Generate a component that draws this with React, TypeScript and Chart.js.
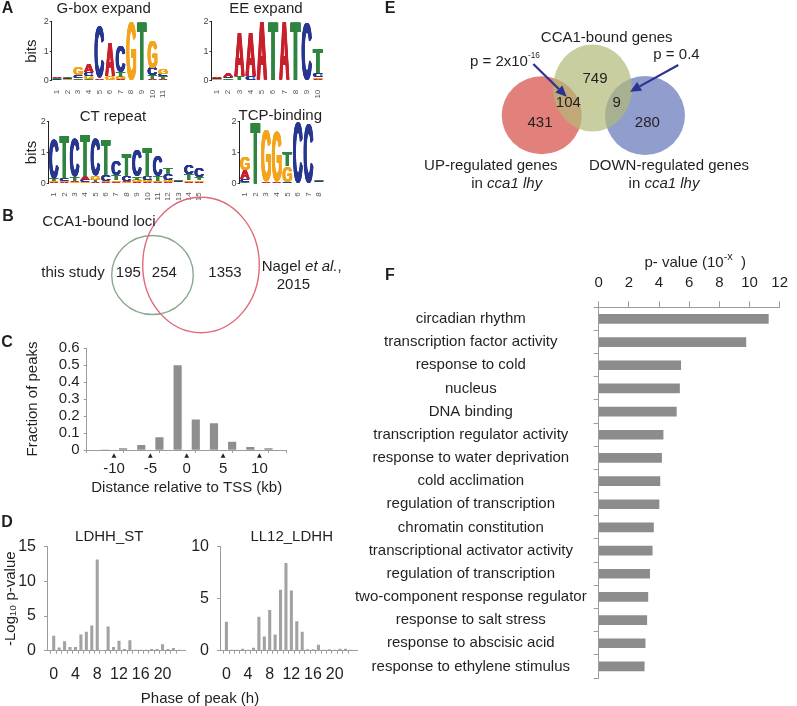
import React, { useEffect, useRef } from 'react';
import { Chart, registerables } from 'chart.js';

Chart.register(...registerables);

const FONT = '"Liberation Sans", Arial, Helvetica, sans-serif';
const INK = '#231f20';
const AXIS = '#9c9c9c';
Chart.defaults.font.family = FONT;
Chart.defaults.color = INK;

type Col = [string, number][];

// ---------- Panel A: sequence logos (bottom -> top, bits) ----------
const gboxColumns: Col[] = [
  [['G', 0.03], ['C', 0.03], ['T', 0.03], ['A', 0.04]],
  [['A', 0.03], ['G', 0.03], ['C', 0.04], ['T', 0.05]],
  [['A', 0.04], ['T', 0.06], ['C', 0.1], ['G', 0.25]],
  [['T', 0.04], ['G', 0.13], ['C', 0.11], ['A', 0.25]],
  [['G', 0.03], ['A', 0.06], ['C', 1.74]],
  [['T', 0.03], ['G', 0.14], ['A', 1.15]],
  [['A', 0.05], ['G', 0.07], ['T', 0.16], ['C', 0.87]],
  [['G', 1.98]],
  [['T', 2.0]],
  [['A', 0.06], ['T', 0.12], ['C', 0.25], ['G', 0.95]],
  [['A', 0.07], ['T', 0.1], ['C', 0.07], ['G', 0.18]],
];
const eeColumns: Col[] = [
  [['T', 0.02], ['G', 0.03], ['C', 0.03], ['A', 0.05]],
  [['G', 0.04], ['T', 0.05], ['C', 0.04], ['A', 0.12]],
  [['C', 0.03], ['T', 0.12], ['A', 1.5]],
  [['T', 0.03], ['C', 0.12], ['A', 1.5]],
  [['A', 2.0]],
  [['T', 2.0]],
  [['A', 2.0]],
  [['T', 2.0]],
  [['C', 1.92]],
  [['A', 0.05], ['G', 0.06], ['C', 0.15], ['T', 0.82]],
];
const ctColumns: Col[] = [
  [['A', 0.04], ['G', 0.04], ['T', 0.06], ['C', 1.3]],
  [['A', 0.04], ['G', 0.04], ['C', 0.1], ['T', 1.4]],
  [['G', 0.04], ['A', 0.04], ['T', 0.14], ['C', 1.22]],
  [['G', 0.04], ['C', 0.06], ['A', 0.14], ['T', 1.36]],
  [['A', 0.04], ['T', 0.06], ['G', 0.14], ['C', 1.2]],
  [['A', 0.04], ['G', 0.04], ['C', 0.2], ['T', 1.15]],
  [['A', 0.05], ['G', 0.05], ['T', 0.15], ['C', 0.45]],
  [['G', 0.04], ['A', 0.04], ['C', 0.15], ['T', 0.7]],
  [['A', 0.04], ['G', 0.08], ['T', 0.1], ['C', 0.85]],
  [['A', 0.04], ['G', 0.06], ['C', 0.12], ['T', 0.95]],
  [['A', 0.04], ['G', 0.05], ['T', 0.15], ['C', 0.66]],
  [['A', 0.05], ['G', 0.06], ['C', 0.2], ['T', 0.2]],
  [['A', 0.03], ['C', 0.03], ['G', 0.03], ['T', 0.03]],
  [['A', 0.05], ['G', 0.05], ['T', 0.2], ['C', 0.3]],
  [['A', 0.05], ['G', 0.05], ['T', 0.1], ['C', 0.3]],
];
const tcpColumns: Col[] = [
  [['T', 0.05], ['C', 0.08], ['A', 0.3], ['G', 0.42]],
  [['T', 2.0]],
  [['A', 0.04], ['G', 1.66]],
  [['A', 0.04], ['G', 1.64]],
  [['C', 0.05], ['G', 0.5], ['T', 0.45]],
  [['C', 2.0]],
  [['C', 1.95]],
  [['A', 0.03], ['C', 0.03], ['G', 0.03], ['T', 0.04]],
];
const LETTER_COLORS: Record<string, string> = { A: '#c8202c', C: '#27368f', G: '#f2a51c', T: '#2f8440' };

// ---------- Panel B ----------
const lociRegionCounts = [195, 254, 1353];
const lociRegionPos = [[128.3, 78.3], [164.3, 78.3], [225, 78.3]];
const lociCircles = [
  { x: 152.5, y: 80, rx: 40.8, ry: 39.5 },
  { x: 201, y: 70, rx: 58.3, ry: 67.7 },
];

// ---------- Panel C ----------
const tssBinCenters = [-11.25, -8.75, -6.25, -3.75, -1.25, 1.25, 3.75, 6.25, 8.75, 11.25];
const tssFractions = [0, 0.009, 0.028, 0.073, 0.497, 0.177, 0.156, 0.047, 0.015, 0.009];
const tssMarks = [-10, -5, 0, 5, 10];

// ---------- Panel D ----------
const phaseHours = [0, 1, 2, 3, 4, 5, 6, 7, 8, 9, 10, 11, 12, 13, 14, 15, 16, 17, 18, 19, 20, 21, 22, 23];
const ldhhStLogP = [2.1, 0.4, 1.3, 0.5, 0.5, 2.3, 2.7, 3.6, 13.1, 0, 3.45, 0.5, 1.4, 0.2, 1.45, 0.1, 0.1, 0.1, 0.2, 0.2, 0.9, 0.2, 0.35, 0.1];
const ll12LdhhLogP = [2.75, 0.05, 0.05, 0.15, 0.05, 0.25, 3.24, 1.33, 3.88, 1.52, 5.83, 8.4, 5.76, 2.8, 1.78, 0.1, 0.1, 0.55, 0.05, 0.1, 0.05, 0.15, 0.15, 0.05];
const phaseLabels = [0, 4, 8, 12, 16, 20];

// ---------- Panel E ----------
const geneRegionCounts = [431, 104, 749, 9, 280];
const geneRegionPos = [[160, 122.7], [188.3, 103.3], [215, 79.3], [236.7, 103.3], [267.3, 122.7]];
const geneCircles = [
  { x: 161.7, y: 115.3, rx: 40, ry: 39 },
  { x: 265, y: 115.5, rx: 40, ry: 39.5 },
  { x: 212.5, y: 88, rx: 39.5, ry: 43.5 },
];

// ---------- Panel F ----------
const goTerms = [
  'circadian rhythm', 'transcription factor activity', 'response to cold', 'nucleus', 'DNA binding',
  'transcription regulator activity', 'response to water deprivation', 'cold acclimation',
  'regulation of transcription', 'chromatin constitution', 'transcriptional activator activity',
  'regulation of transcription', 'two-component response regulator', 'response to salt stress',
  'response to abscisic acid', 'response to ethylene stimulus',
];
const goNegLogP = [11.25, 9.76, 5.44, 5.36, 5.15, 4.27, 4.17, 4.06, 4.0, 3.63, 3.55, 3.38, 3.26, 3.19, 3.08, 3.02];

// ---------- helpers ----------
type Part = { t: string; sup?: boolean; it?: boolean };
type Note = { x: number; y: number; parts: Part[]; align?: 'left' | 'center' | 'right'; size?: number };

function drawRich(ctx: CanvasRenderingContext2D, parts: Part[], x: number, y: number, align: string, size: number, supScale = 0.62) {
  const fontOf = (p: Part) => `${p.it ? 'italic ' : ''}${p.sup ? size * supScale : size}px ${FONT}`;
  let total = 0;
  const widths = parts.map((p) => { ctx.font = fontOf(p); const w = ctx.measureText(p.t).width; total += w; return w; });
  let cx = align === 'center' ? x - total / 2 : align === 'right' ? x - total : x;
  ctx.fillStyle = INK;
  ctx.textAlign = 'left';
  ctx.textBaseline = 'middle';
  parts.forEach((p, i) => {
    ctx.font = fontOf(p);
    ctx.fillText(p.t, cx, p.sup ? y - size * 0.42 : y);
    cx += widths[i];
  });
}

function notesPlugin(notes: Note[], supScale = 0.62) {
  return {
    id: 'notes',
    afterDatasetsDraw(chart: any) {
      const { ctx } = chart;
      const xs = chart.scales.x; const ys = chart.scales.y;
      ctx.save();
      notes.forEach((n) => drawRich(ctx, n.parts, xs.getPixelForValue(n.x), ys.getPixelForValue(n.y), n.align ?? 'center', n.size ?? 15, supScale));
      ctx.restore();
    },
  };
}

const ellipsePlugin = {
  id: 'ellipses',
  beforeDatasetsDraw(chart: any) {
    const { ctx } = chart;
    const xs = chart.scales.x; const ys = chart.scales.y;
    ctx.save();
    chart.data.datasets.forEach((ds: any) => {
      ds.data.forEach((d: any) => {
        const cx = xs.getPixelForValue(d.x); const cy = ys.getPixelForValue(d.y);
        const rx = Math.abs(xs.getPixelForValue(d.x + d.rx) - cx);
        const ry = Math.abs(ys.getPixelForValue(d.y + d.ry) - cy);
        ctx.beginPath();
        ctx.ellipse(cx, cy, rx, ry, 0, 0, Math.PI * 2);
        if (ds.fillColor) { ctx.fillStyle = ds.fillColor; ctx.fill(); }
        if (ds.strokeColor) { ctx.strokeStyle = ds.strokeColor; ctx.lineWidth = 1.4; ctx.stroke(); }
      });
    });
    ctx.restore();
  },
};

function arrowsPlugin(arrows: number[][]) {
  return {
    id: 'arrows',
    afterDatasetsDraw(chart: any) {
      const { ctx } = chart;
      const xs = chart.scales.x; const ys = chart.scales.y;
      ctx.save();
      ctx.strokeStyle = '#2c3290';
      ctx.fillStyle = '#2c3290';
      ctx.lineWidth = 2.2;
      arrows.forEach(([a, b, c, d]) => {
        const x1 = xs.getPixelForValue(a); const y1 = ys.getPixelForValue(b);
        const x2 = xs.getPixelForValue(c); const y2 = ys.getPixelForValue(d);
        const ang = Math.atan2(y2 - y1, x2 - x1);
        const hl = 11; const hw = 5;
        const bx = x2 - hl * Math.cos(ang); const by = y2 - hl * Math.sin(ang);
        ctx.beginPath(); ctx.moveTo(x1, y1); ctx.lineTo(bx, by); ctx.stroke();
        ctx.beginPath();
        ctx.moveTo(x2, y2);
        ctx.lineTo(bx + hw * Math.sin(ang), by - hw * Math.cos(ang));
        ctx.lineTo(bx - hw * Math.sin(ang), by + hw * Math.cos(ang));
        ctx.closePath(); ctx.fill();
      });
      ctx.restore();
    },
  };
}

const logoPlugin = {
  id: 'logo',
  afterDatasetsDraw(chart: any) {
    const { ctx } = chart;
    ctx.save();
    ctx.font = `bold 100px ${FONT}`;
    ctx.textAlign = 'left';
    ctx.textBaseline = 'alphabetic';
    chart.data.datasets.forEach((ds: any, di: number) => {
      const meta = chart.getDatasetMeta(di);
      meta.data.forEach((el: any, i: number) => {
        const letter = ds.letters[i];
        if (!letter || !ds.data[i]) return;
        const { x, y, base, width } = el.getProps(['x', 'y', 'base', 'width'], true);
        const h = base - y;
        if (h < 0.4) return;
        const m = ctx.measureText(letter);
        const gw = m.actualBoundingBoxLeft + m.actualBoundingBoxRight;
        const gh = m.actualBoundingBoxAscent + m.actualBoundingBoxDescent;
        const bold = gw * 0.14; // extra horizontal stroke weight
        ctx.save();
        ctx.translate(x - width / 2, y);
        ctx.scale(width / (gw + bold), h / gh);
        ctx.fillStyle = LETTER_COLORS[letter];
        for (let k = 0; k <= 6; k++) {
          ctx.fillText(letter, m.actualBoundingBoxLeft + (bold * k) / 6, m.actualBoundingBoxAscent);
        }
        ctx.restore();
      });
    });
    ctx.restore();
  },
};

const hidden = { legend: { display: false }, tooltip: { enabled: false } };

function logoConfig(columns: Col[], yTitle: string | null, axisW: number, padTop: number, bottomH: number, padRight: number): any {
  const levels = Math.max(...columns.map((c) => c.length));
  const datasets: any[] = [];
  for (let k = 0; k < levels; k++) {
    datasets.push({
      data: columns.map((c) => (c[k] ? c[k][1] : 0)),
      letters: columns.map((c) => (c[k] ? c[k][0] : '')),
      backgroundColor: 'rgba(0,0,0,0)',
      borderWidth: 0,
      barPercentage: 0.94,
      categoryPercentage: 1,
    });
  }
  return {
    type: 'bar',
    data: { labels: columns.map((_, i) => String(i + 1)), datasets },
    options: {
      responsive: false, animation: false, events: [],
      layout: { padding: { top: padTop, right: padRight, left: 0, bottom: 0 } },
      plugins: hidden,
      scales: {
        x: {
          stacked: true, grid: { display: false }, border: { display: false },
          ticks: { font: { size: 8 }, color: '#555', maxRotation: 90, minRotation: 90, padding: 1, autoSkip: false },
          afterFit: (s: any) => { s.height = bottomH; },
        },
        y: {
          stacked: true, min: 0, max: 2,
          ticks: { stepSize: 1, font: { size: 9 }, color: '#444', padding: 1 },
          grid: { drawOnChartArea: false, tickLength: 2, color: '#333' },
          border: { color: '#222', width: 1 },
          title: { display: !!yTitle, text: yTitle || '', font: { size: 15 }, padding: { top: 23, bottom: 0 } },
          afterFit: (s: any) => { s.width = axisW; },
        },
      },
    },
    plugins: [logoPlugin],
  };
}

function vennBConfig(): any {
  const notes: Note[] = [
    { x: 99, y: 27, parts: [{ t: 'CCA1-bound loci' }] },
    { x: 73, y: 78.3, parts: [{ t: 'this study' }] },
    ...lociRegionCounts.map((c, i) => ({ x: lociRegionPos[i][0], y: lociRegionPos[i][1], parts: [{ t: String(c) }] })),
    { x: 261.7, y: 71.7, align: 'left' as const, parts: [{ t: 'Nagel ' }, { t: 'et al.', it: true }, { t: ',' }] },
    { x: 276.7, y: 90, align: 'left' as const, parts: [{ t: '2015' }] },
  ];
  return {
    type: 'scatter',
    data: {
      datasets: [
        { data: [lociCircles[0]], strokeColor: '#89a98d', pointRadius: 0 },
        { data: [lociCircles[1]], strokeColor: '#df6a79', pointRadius: 0 },
      ],
    },
    options: {
      responsive: false, animation: false, events: [],
      plugins: hidden,
      scales: {
        x: { display: false, min: 0, max: 380 },
        y: { display: false, min: 0, max: 145, reverse: true },
      },
    },
    plugins: [ellipsePlugin, notesPlugin(notes)],
  };
}

function vennEConfig(): any {
  const notes: Note[] = [
    { x: 226.7, y: 38.3, parts: [{ t: 'CCA1-bound genes' }] },
    { x: 90, y: 61.7, align: 'left', parts: [{ t: 'p = 2x10' }, { t: '-16', sup: true }] },
    { x: 296.5, y: 55, parts: [{ t: 'p = 0.4' }] },
    ...geneRegionCounts.map((c, i) => ({ x: geneRegionPos[i][0], y: geneRegionPos[i][1], parts: [{ t: String(c) }] })),
    { x: 110.8, y: 166, parts: [{ t: 'UP-regulated genes' }] },
    { x: 126.7, y: 184.3, parts: [{ t: 'in ' }, { t: 'cca1 lhy', it: true }] },
    { x: 289, y: 166, parts: [{ t: 'DOWN-regulated genes' }] },
    { x: 284, y: 184.3, parts: [{ t: 'in ' }, { t: 'cca1 lhy', it: true }] },
  ];
  const arrows = [[153.3, 64, 186.7, 96.7], [298.3, 65, 250, 91.7]];
  return {
    type: 'scatter',
    data: {
      datasets: [
        { data: [geneCircles[0]], fillColor: 'rgba(214,74,68,0.7)', pointRadius: 0 },
        { data: [geneCircles[1]], fillColor: 'rgba(98,115,184,0.7)', pointRadius: 0 },
        { data: [geneCircles[2]], fillColor: 'rgba(176,185,119,0.7)', pointRadius: 0 },
      ],
    },
    options: {
      responsive: false, animation: false, events: [],
      plugins: hidden,
      scales: {
        x: { display: false, min: 0, max: 417 },
        y: { display: false, min: 0, max: 200, reverse: true },
      },
    },
    plugins: [ellipsePlugin, notesPlugin(notes, 0.55), arrowsPlugin(arrows)],
  };
}

const tssArrowPlugin = {
  id: 'tssArrows',
  afterDraw(chart: any) {
    const { ctx } = chart; const xs = chart.scales.x;
    ctx.save(); ctx.fillStyle = '#222';
    tssMarks.forEach((v) => {
      const px = xs.getPixelForValue(v); const y0 = xs.top;
      ctx.beginPath();
      ctx.moveTo(px, y0 + 3.2); ctx.lineTo(px + 2.4, y0 + 7.8); ctx.lineTo(px - 2.4, y0 + 7.8);
      ctx.closePath(); ctx.fill();
    });
    ctx.restore();
  },
};

function tssConfig(): any {
  return {
    type: 'bar',
    data: { datasets: [{ data: tssBinCenters.map((x, i) => ({ x, y: tssFractions[i] })), backgroundColor: '#8e8e8e', barThickness: 7.5 }] },
    options: {
      responsive: false, animation: false, events: [],
      layout: { padding: { top: 7.7, right: 13.3, left: 0, bottom: 0 } },
      plugins: hidden,
      scales: {
        x: {
          type: 'linear', min: -12.5, max: 12.5,
          ticks: { stepSize: 2.5, autoSkip: false, maxRotation: 0, includeBounds: false, font: { size: 15 }, padding: 7, callback: (v: number) => (tssMarks.includes(v) ? String(v) : '') },
          grid: { drawOnChartArea: false, tickLength: 3, color: AXIS, tickColor: (c: any) => (c.tick && tssMarks.includes(c.tick.value) ? 'rgba(0,0,0,0)' : AXIS) },
          border: { color: AXIS },
          title: { display: true, text: 'Distance relative to TSS (kb)', font: { size: 15 }, padding: { top: 0, bottom: 2.7 } },
          afterFit: (s: any) => { s.height = 50; },
        },
        y: {
          min: 0, max: 0.6,
          ticks: { stepSize: 0.1, autoSkip: false, font: { size: 15 }, padding: 4, callback: (v: number) => (v === 0 ? '0' : Number(v).toFixed(1)) },
          grid: { drawOnChartArea: false, tickLength: 3, color: AXIS },
          border: { color: AXIS },
          title: { display: true, text: 'Fraction of peaks', font: { size: 15 }, padding: { top: 24, bottom: 0 } },
          afterFit: (s: any) => { s.width = 86.7; },
        },
      },
    },
    plugins: [tssArrowPlugin],
  };
}

function phaseConfig(values: number[], yMax: number, yTitle: string | null, axisW: number, xMin: number, xMax: number, padRight: number): any {
  return {
    type: 'bar',
    data: { datasets: [{ data: phaseHours.map((h, i) => ({ x: h, y: values[i] })), backgroundColor: '#a2a2a2', barThickness: 2.4 }] },
    options: {
      responsive: false, animation: false, events: [],
      layout: { padding: { top: 26.7, right: padRight, left: 0, bottom: 0 } },
      plugins: hidden,
      scales: {
        x: {
          type: 'linear', min: xMin, max: xMax,
          ticks: { stepSize: 1, autoSkip: false, includeBounds: false, maxRotation: 0, font: { size: 16 }, padding: 11, callback: (v: number) => (phaseLabels.includes(v) ? String(v) : '') },
          grid: { drawOnChartArea: false, tickLength: 3, color: AXIS, tickColor: (c: any) => (c.tick && Number.isInteger(c.tick.value) ? AXIS : 'rgba(0,0,0,0)') },
          border: { color: AXIS },
          afterFit: (s: any) => { s.height = 55.3; },
        },
        y: {
          min: 0, max: yMax,
          ticks: { stepSize: 5, font: { size: 16 }, padding: 8 },
          grid: { drawOnChartArea: false, tickLength: 3, color: AXIS },
          border: { color: AXIS },
          title: { display: !!yTitle, text: yTitle || '', font: { size: 15 }, padding: { top: 2, bottom: 0 } },
          afterFit: (s: any) => { s.width = axisW; },
        },
      },
    },
  };
}

const goTitlePlugin = {
  id: 'goTitle',
  afterDraw(chart: any) {
    const { ctx } = chart; const xs = chart.scales.x;
    ctx.save();
    drawRich(ctx, [{ t: 'p- value (10' }, { t: '-x', sup: true }, { t: '  )' }], xs.getPixelForValue(6.4), xs.top + 23.3, 'center', 15, 0.72);
    ctx.restore();
  },
};

function goConfig(): any {
  return {
    type: 'bar',
    data: { labels: goTerms, datasets: [{ data: goNegLogP, backgroundColor: '#8c8c8c', barThickness: 9 }] },
    options: {
      indexAxis: 'y', responsive: false, animation: false, events: [],
      layout: { padding: { top: 0, right: 10.3, bottom: 28, left: 0 } },
      plugins: hidden,
      scales: {
        x: {
          position: 'top', min: 0, max: 12,
          ticks: { stepSize: 2, font: { size: 15 }, padding: 9 },
          grid: { drawOnChartArea: false, tickLength: 6, color: AXIS },
          border: { color: AXIS },
          afterFit: (s: any) => { s.height = 67.3; },
        },
        y: {
          ticks: { crossAlign: 'center', font: { size: 15 }, padding: 7, autoSkip: false },
          grid: { drawOnChartArea: false, tickLength: 5, color: AXIS, offset: true },
          border: { color: AXIS },
          afterFit: (s: any) => { s.width = 258.7; },
        },
      },
    },
    plugins: [goTitlePlugin],
  };
}

function ChartCanvas({ left, top, width, height, make }: { left: number; top: number; width: number; height: number; make: () => any }) {
  const ref = useRef<HTMLCanvasElement>(null);
  useEffect(() => {
    const chart = new Chart(ref.current as HTMLCanvasElement, make());
    return () => chart.destroy();
  }, []);
  return (
    <div style={{ position: 'absolute', left, top, width, height }}>
      <canvas ref={ref} width={width} height={height} style={{ width, height, display: 'block' }} />
    </div>
  );
}

function Label({ x, y, text, bold = false, size = 15 }: { x: number; y: number; text: string; bold?: boolean; size?: number }) {
  return (
    <div
      style={{
        position: 'absolute', left: x, top: y, transform: 'translate(-50%, -50%)',
        font: `${bold ? 'bold ' : ''}${size}px ${FONT}`, lineHeight: 1, whiteSpace: 'nowrap', color: INK,
      }}
    >
      {text}
    </div>
  );
}

export default function App() {
  return (
    <div style={{ position: 'fixed', left: 0, top: 0, width: 797, height: 706, background: '#fff', overflow: 'hidden' }}>
      <ChartCanvas left={0} top={0} width={175} height={100} make={() => logoConfig(gboxColumns, 'bits', 51.7, 21.7, 19.3, 6.7)} />
      <ChartCanvas left={175} top={0} width={155} height={100} make={() => logoConfig(eeColumns, null, 36.4, 21.7, 19.3, 6.4)} />
      <ChartCanvas left={0} top={100} width={210} height={100} make={() => logoConfig(ctColumns, 'bits', 48.8, 21.7, 16.7, 4.8)} />
      <ChartCanvas left={210} top={100} width={120} height={100} make={() => logoConfig(tcpColumns, null, 29.6, 21.7, 16.7, 4.6)} />
      <ChartCanvas left={0} top={195} width={380} height={145} make={vennBConfig} />
      <ChartCanvas left={0} top={335} width={300} height={165} make={tssConfig} />
      <ChartCanvas left={0} top={520} width={190} height={186} make={() => phaseConfig(ldhhStLogP, 15, '-Log₁₀ p-value', 47, -0.7, 23.75, 3)} />
      <ChartCanvas left={185} top={520} width={180} height={186} make={() => phaseConfig(ll12LdhhLogP, 10, null, 35, -0.66, 23.6, 8)} />
      <ChartCanvas left={380} top={0} width={417} height={200} make={vennEConfig} />
      <ChartCanvas left={340} top={240} width={457} height={466} make={goConfig} />

      <Label x={7.5} y={8.3} text="A" bold size={16} />
      <Label x={8} y={216} text="B" bold size={16} />
      <Label x={7} y={341.7} text="C" bold size={16} />
      <Label x={7} y={521.7} text="D" bold size={16} />
      <Label x={390} y={8} text="E" bold size={16} />
      <Label x={390} y={275} text="F" bold size={16} />
      <Label x={103.7} y={6.5} text="G-box expand" />
      <Label x={266} y={6.5} text="EE expand" />
      <Label x={113} y={115} text="CT repeat" />
      <Label x={280.3} y={114} text="TCP-binding" />
      <Label x={109.3} y={535} text="LDHH_ST" />
      <Label x={291.7} y={535} text="LL12_LDHH" />
      <Label x={200} y={696.7} text="Phase of peak (h)" />
    </div>
  );
}
